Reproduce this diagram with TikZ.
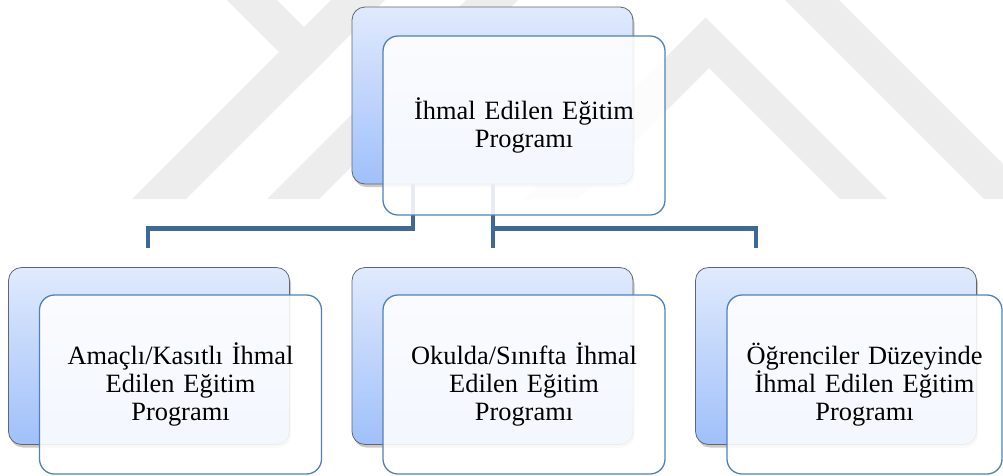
\documentclass[tikz,border=0pt]{standalone}
\usepackage{fontspec}
\setmainfont{Liberation Serif}
\usetikzlibrary{shadows}

\definecolor{backtop}{RGB}{224,234,252}
\definecolor{backbot}{RGB}{160,192,250}
\definecolor{backedge}{RGB}{100,102,108}
\definecolor{frontedge}{RGB}{79,129,189}
\definecolor{linkblue}{RGB}{63,103,153}
\definecolor{markgray}{RGB}{237,237,237}

\tikzset{
  backbox/.style={rounded corners=13pt, top color=backtop, bottom color=backbot,
    draw=backedge, line width=0.8pt, minimum width=281pt, minimum height=177pt,
    inner sep=0pt,
    drop shadow={shadow xshift=1.5pt, shadow yshift=-3pt, opacity=0.3, fill=black!70}},
  frontbox/.style={rounded corners=15pt, draw=frontedge, line width=1.3pt,
    fill=white, fill opacity=0.88, text opacity=1, minimum width=282pt,
    minimum height=179pt, inner sep=0pt, text width=272pt, align=center,
    font=\fontsize{26.4pt}{28.3pt}\selectfont},
  link/.style={draw=linkblue, line width=4.5pt, line join=miter},
  markband/.style={fill=markgray, draw=none}
}

\begin{document}
\begin{tikzpicture}[x=1pt, y=-1pt]
  \useasboundingbox (0,0) rectangle (1003,475);

  % faint emblem in the background
  \begin{scope}
    \clip (0,0) rectangle (1003,199);
    \fill[markband] (132,199) -- (186,199) -- (385,0) -- (331,0) -- cycle;
    \fill[markband] (227,0) -- (277,0) -- (331,54) -- (306,79) -- cycle;
    \fill[markband] (267,199) -- (319,199) -- (518,0) -- (466,0) -- cycle;
    \fill[markband] (785,0) -- (839,0) -- (1038,199) -- (984,199) -- cycle;
    \fill[markband] (524,199) -- (705.5,17.5) -- (887,199) -- (840,199)
      -- (709,68) -- (578,199) -- cycle;
  \end{scope}

  % rear panels
  \node[backbox] (topback) at (492.5,95.5) {};
  \node[backbox] (leftback) at (149,356) {};
  \node[backbox] (midback) at (492.5,356) {};
  \node[backbox] (rightback) at (836,356) {};

  % connector geometry
  \coordinate (tapL) at (413,0);
  \coordinate (bus) at (0,228.5);
  \coordinate (dropL) at (148,248);
  \coordinate (dropM) at (493,248);
  \coordinate (dropR) at (756,248);

  \draw[link] (topback.south -| tapL) |- (dropL |- bus) -- (dropL);
  \draw[link] (topback.south -| dropM) -- (dropM);
  \draw[link] (dropM |- bus) -| (dropR);

  % front panels with the labels
  \node[frontbox] (topfront) at (524,125.5) {İhmal Edilen Eğitim\\Programı};
  \node[frontbox] (leftfront) at (180.5,384.5)
    {Amaçlı/Kasıtlı İhmal\\Edilen Eğitim\\Programı};
  \node[frontbox] (midfront) at (524,384.5)
    {Okulda/Sınıfta İhmal\\Edilen Eğitim\\Programı};
  \node[frontbox, minimum width=275pt, text width=268pt] (rightfront) at (864.5,384.5)
    {Öğrenciler Düzeyinde\\İhmal Edilen Eğitim\\Programı};
\end{tikzpicture}
\end{document}
